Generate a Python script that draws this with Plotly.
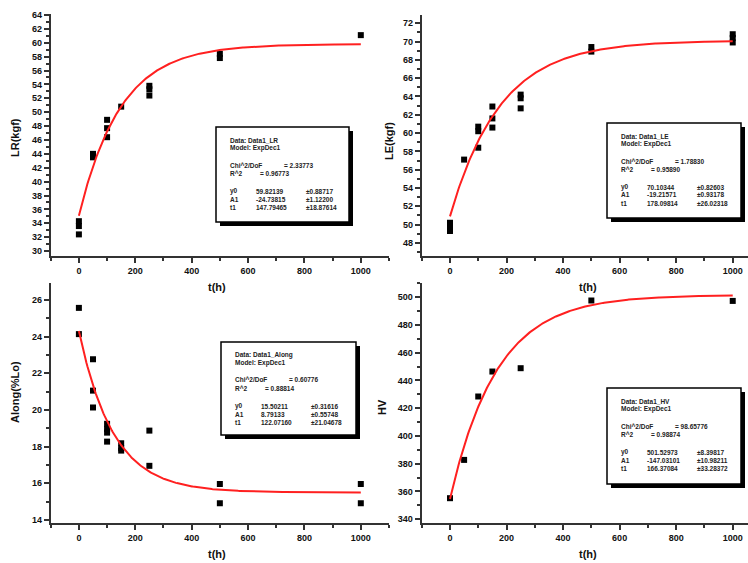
import numpy as np
import plotly.graph_objects as go

# ---------------- data ----------------
t_LR = [0, 0, 0, 50, 50, 100, 100, 100, 150, 250, 250, 250, 500, 500, 1000]
LR = [34.3, 33.6, 32.4, 44.0, 43.5, 48.9, 47.7, 46.4, 50.8, 53.8, 53.3, 52.4, 58.4, 57.8, 61.1]
fit_LR = dict(y0=59.8, A1=-24.7, t1=148.0)

t_LE = [0, 0, 0, 50, 100, 100, 100, 150, 150, 150, 250, 250, 250, 500, 500, 1000, 1000, 1000]
LE = [50.2, 49.8, 49.3, 57.1, 60.7, 60.2, 58.4, 62.9, 61.6, 60.6, 64.2, 63.8, 62.7, 69.4, 68.9, 70.8, 70.4, 69.9]
fit_LE = dict(y0=70.1, A1=-19.2, t1=178.0)

t_AL = [0, 0, 50, 50, 50, 100, 100, 100, 100, 150, 150, 150, 250, 250, 500, 500, 1000, 1000]
AL = [25.56, 24.13, 22.76, 21.05, 20.13, 19.24, 18.96, 18.76, 18.27, 18.18, 17.91, 17.78, 18.87, 16.95, 15.96, 14.91, 15.96, 14.91]
fit_AL = dict(y0=15.5, A1=8.8, t1=122.0)

t_HV = [0, 50, 100, 150, 250, 500, 1000]
HV = [355.1, 382.7, 428.4, 446.4, 448.8, 497.6, 497.3]
fit_HV = dict(y0=501.5, A1=-147.0, t1=166.0)

x_ticks = [0, 200, 400, 600, 800, 1000]
LR_ticks = list(range(30, 66, 2))
LE_ticks = list(range(48, 74, 2))
AL_ticks = list(range(14, 28, 2))
HV_ticks = list(range(340, 520, 20))

box_texts = {
    "LR": ["Data: Data1_LR", "Model: ExpDec1", ("Chi^2/DoF", "= 2.33773"), ("R^2", "= 0.96773"),
           ("y0", "59.82139", "±0.88717"), ("A1", "-24.73815", "±1.12200"), ("t1", "147.79465", "±18.87614")],
    "LE": ["Data: Data1_LE", "Model: ExpDec1", ("Chi^2/DoF", "= 1.78830"), ("R^2", "= 0.95890"),
           ("y0", "70.10344", "±0.82603"), ("A1", "-19.21571", "±0.93178"), ("t1", "178.09814", "±26.02318")],
    "AL": ["Data: Data1_Along", "Model: ExpDec1", ("Chi^2/DoF", "= 0.60776"), ("R^2", "= 0.88814"),
           ("y0", "15.50211", "±0.31616"), ("A1", "8.79133", "±0.55748"), ("t1", "122.07160", "±21.04678")],
    "HV": ["Data: Data1_HV", "Model: ExpDec1", ("Chi^2/DoF", "= 98.65776"), ("R^2", "= 0.98874"),
           ("y0", "501.52973", "±8.39817"), ("A1", "-147.03101", "±10.98211"), ("t1", "166.37084", "±33.28372")],
}

# ---------------- layout helpers ----------------
W, H = 748, 563
def fx(px):
    return px / W
def fy(py):
    return 1 - py / H

panels = [
    ("LR", "", t_LR, LR, fit_LR, LR_ticks, [29.33, 64.1], (50.7, 389), (14.3, 255.7), [-100, 1100],
     "LR(kgf)", (15, 138), (216, 127, 349, 222)),
    ("LE", "2", t_LE, LE, fit_LE, LE_ticks, [46.6, 72.9], (421.7, 748), (15, 255.7), [-100, 1054],
     "LE(kgf)", (389, 141), (607, 123, 741, 218)),
    ("AL", "3", t_AL, AL, fit_AL, AL_ticks, [13.85, 26.9], (50.7, 389), (283.3, 522.7), [-100, 1100],
     "Along(%Lo)", (15, 392), (221, 342, 356, 435)),
    ("HV", "4", t_HV, HV, fit_HV, HV_ticks, [337, 510], (421.7, 748), (283.3, 523.3), [-100, 1054],
     "HV", (382, 407), (607, 388, 741, 484)),
]

fig = go.Figure()
tick_font = dict(family="Liberation Sans, Arial", size=9, color="#111", weight="bold")
title_font = dict(family="Liberation Sans, Arial", size=11, color="#111", weight="bold")
box_font = dict(family="Liberation Sans, Arial", size=6.5, color="#222", weight="bold")

annotations = []
shapes = []
line_off = [13, 21, 38, 46, 64, 72, 80]

for key, ax, t, y, fit, yticks, yrange, xdom, ydom, xrange_, ytitle, tpos, box in panels:
    xa = "x" + ax
    ya = "y" + ax
    fig.add_trace(go.Scatter(x=t, y=y, mode="markers", xaxis=xa, yaxis=ya,
                             marker=dict(symbol="square", size=6, color="black"),
                             showlegend=False, cliponaxis=False))
    tc = np.linspace(0, 1000, 300)
    yc = fit["y0"] + fit["A1"] * np.exp(-tc / fit["t1"])
    fig.add_trace(go.Scatter(x=tc, y=yc, mode="lines", xaxis=xa, yaxis=ya,
                             line=dict(color="#ff2020", width=2), showlegend=False))

    common = dict(showline=True, linecolor="#333", linewidth=2, ticks="outside",
                  ticklen=5, tickwidth=2, tickcolor="#333", showgrid=False, zeroline=False,
                  tickfont=tick_font, automargin=False)
    xaxis = dict(domain=[fx(xdom[0]), fx(xdom[1])], range=xrange_, anchor=ya,
                 tickvals=x_ticks, ticktext=[str(v) for v in x_ticks],
                 minor=dict(ticks="outside", ticklen=3, tickwidth=2, tickcolor="#333",
                            tickvals=[-100, 100, 300, 500, 700, 900, 1100], showgrid=False),
                 **common)
    ystep = yticks[1] - yticks[0]
    yaxis = dict(domain=[fy(ydom[1]), fy(ydom[0])], range=yrange, anchor=xa,
                 tickvals=yticks, ticktext=[str(v) for v in yticks],
                 minor=dict(ticks="outside", ticklen=3, tickwidth=2, tickcolor="#333",
                            dtick=ystep / 2, tick0=yticks[0], showgrid=False),
                 **common)
    fig.layout["xaxis" + ax] = xaxis
    fig.layout["yaxis" + ax] = yaxis

    # axis titles
    annotations.append(dict(text="t(h)", x=fx(xdom[0] + 166), y=fy(ydom[1] + 31),
                            xref="paper", yref="paper",
                            showarrow=False, font=title_font, xanchor="center", yanchor="middle"))
    annotations.append(dict(text=ytitle, x=fx(tpos[0]), y=fy(tpos[1]), xref="paper", yref="paper",
                            showarrow=False, font=title_font, textangle=-90,
                            xanchor="center", yanchor="middle"))

    # fit result box with shadow
    bx0, by0, bx1, by1 = box
    shapes.append(dict(type="rect", xref="paper", yref="paper",
                       x0=fx(bx0 + 4), x1=fx(bx1 + 4), y0=fy(by1 + 4), y1=fy(by0 + 4),
                       fillcolor="black", line=dict(width=0)))
    shapes.append(dict(type="rect", xref="paper", yref="paper",
                       x0=fx(bx0), x1=fx(bx1), y0=fy(by1), y1=fy(by0),
                       fillcolor="white", line=dict(color="black", width=1.5)))
    for i, item in enumerate(box_texts[key]):
        ly = fy(by0 + line_off[i])
        if isinstance(item, str):
            parts = [(item, 12)]
        elif len(item) == 2:
            parts = [(item[0], 12), (item[1], 66 if i == 2 else 42)]
        else:
            parts = [(item[0], 12), (item[1], 38), (item[2], 88)]
        for txt, off in parts:
            annotations.append(dict(text=txt, x=fx(bx0 + off), y=ly, xref="paper", yref="paper",
                                    showarrow=False, font=box_font, xanchor="left",
                                    yanchor="middle"))

fig.update_layout(width=W, height=H, margin=dict(l=0, r=0, t=0, b=0),
                  paper_bgcolor="white", plot_bgcolor="white",
                  annotations=annotations, shapes=shapes, showlegend=False)

fig.write_html("out.html", config={"displayModeBar": False},
               post_script="document.documentElement.style.margin='0';"
                           "document.body.style.margin='0';"
                           "document.body.style.overflow='hidden';")
